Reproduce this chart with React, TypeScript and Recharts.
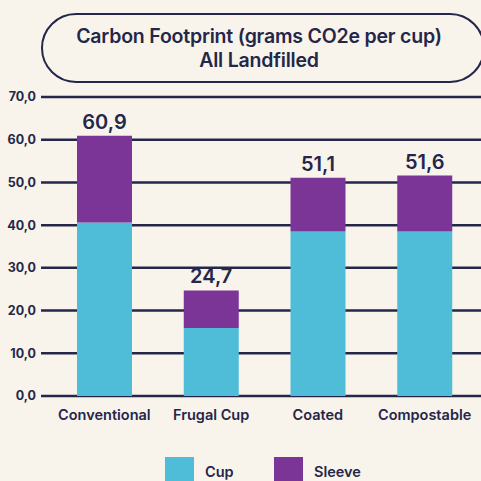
import { BarChart, Bar, XAxis, YAxis, CartesianGrid, LabelList } from 'recharts'

const categories = ['Conventional', 'Frugal Cup', 'Coated', 'Compostable']
const cupValues = [40.6, 15.9, 38.5, 38.5]
const sleeveValues = [20.3, 8.8, 12.6, 13.1]
const totals = [60.9, 24.7, 51.1, 51.6]
const yTicks = [0, 10, 20, 30, 40, 50, 60, 70]

const INK = '#24264a'
const BG = '#f8f4eb'
const CUP = '#4fbcd8'
const SLEEVE = '#7b3597'
const FONT = 'Inter, "Noto Sans", sans-serif'

const series = [
  { key: 'cup', name: 'Cup', color: CUP },
  { key: 'sleeve', name: 'Sleeve', color: SLEEVE },
]

const data = categories.map((name, i) => ({
  name,
  cup: cupValues[i],
  sleeve: sleeveValues[i],
  total: totals[i],
}))

const fmt = (v: number) => v.toFixed(1).replace('.', ',')

export default function App() {
  return (
    <div
      style={{
        position: 'absolute',
        left: 0,
        top: 0,
        width: 481,
        height: 481,
        background: BG,
        overflow: 'hidden',
        fontFamily: FONT,
      }}
    >
      <div
        style={{
          position: 'absolute',
          left: 41,
          top: 13,
          width: 444,
          height: 70,
          boxSizing: 'border-box',
          border: `2px solid ${INK}`,
          borderRadius: 36,
          display: 'flex',
          flexDirection: 'column',
          alignItems: 'center',
          justifyContent: 'center',
          color: INK,
          fontSize: 19.5,
          fontWeight: 600,
          lineHeight: '24px',
          paddingRight: 8,
          letterSpacing: -0.2,
        }}
      >
        <div>Carbon Footprint (grams CO2e per cup)</div>
        <div>All Landfilled</div>
      </div>
      <BarChart
        width={481}
        height={481}
        data={data}
        margin={{ top: 97, right: 0, left: 0, bottom: 55 }}
        barSize={55}
      >
        <CartesianGrid vertical={false} stroke={INK} strokeWidth={2.5} />
        <XAxis
          dataKey="name"
          height={30}
          axisLine={false}
          tickLine={false}
          tickSize={0}
          tickMargin={14}
          padding={{ left: 10, right: 3 }}
          interval={0}
          tick={{ fill: INK, fontSize: 14.5, fontWeight: 600, fontFamily: FONT }}
        />
        <YAxis
          width={41}
          domain={[0, 70]}
          ticks={yTicks}
          axisLine={false}
          tickLine={false}
          tickSize={0}
          tickMargin={5}
          tickFormatter={fmt}
          tick={{ fill: INK, fontSize: 12.5, fontWeight: 700, fontFamily: FONT }}
        />
        {series.map((s) => (
          <Bar
            key={s.key}
            dataKey={s.key}
            name={s.name}
            stackId="a"
            fill={s.color}
            isAnimationActive={false}
          >
            {s.key === 'sleeve' && (
              <LabelList
                dataKey="total"
                position="top"
                offset={7}
                formatter={(v: any) => fmt(Number(v))}
                style={{ fill: INK, fontSize: 20, fontWeight: 600, fontFamily: FONT }}
              />
            )}
          </Bar>
        ))}
      </BarChart>
      <div style={{ position: 'absolute', left: 165, top: 457, display: 'flex' }}>
        {series.map((s) => (
          <div key={s.key} style={{ display: 'flex', alignItems: 'center', width: 109 }}>
            <div style={{ width: 29, height: 29, background: s.color, marginRight: 11 }} />
            <span style={{ color: INK, fontSize: 14.5, fontWeight: 600 }}>{s.name}</span>
          </div>
        ))}
      </div>
    </div>
  )
}
